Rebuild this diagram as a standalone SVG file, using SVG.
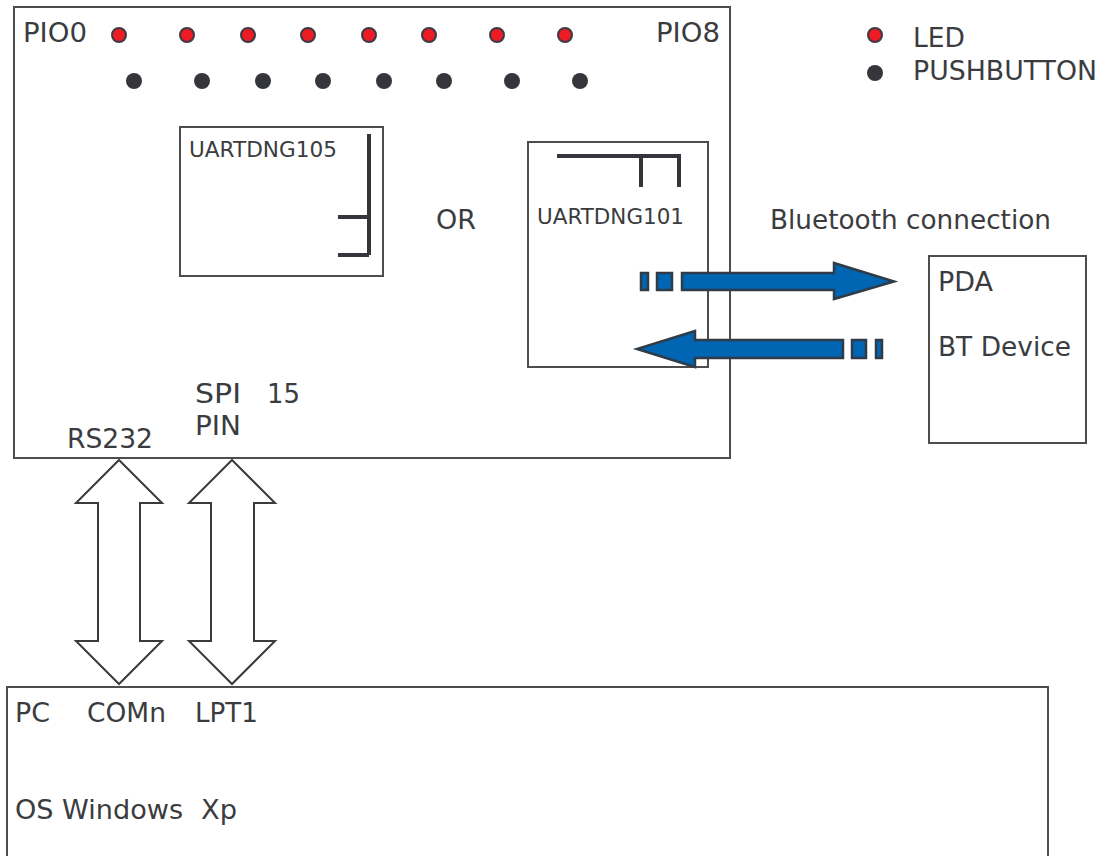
<svg xmlns="http://www.w3.org/2000/svg" width="1104" height="856" viewBox="0 0 1104 856">
<style>
text{font-family:"DejaVu Sans",Verdana,sans-serif;font-size:26px;fill:#3a3c40}
.sm{font-size:21px}
.box{fill:none;stroke:#4d4d4f;stroke-width:2}
.led{fill:#ed1c24;stroke:#3a3a40;stroke-width:2}
.btn{fill:#35363b}
.ant{fill:none;stroke:#35363b;stroke-width:4}
.blue{fill:#0066b3;stroke:#2f3b47;stroke-width:2.500}
.dbl{fill:#fff;stroke:#3a3a3c;stroke-width:2}
</style>
<rect width="1104" height="856" fill="#fff"/>
<g id="main-board">
<rect class="box" x="14" y="7" width="716" height="451"/>
<text x="23" y="42" textLength="64" lengthAdjust="spacingAndGlyphs">PIO0</text>
<text x="656" y="42" textLength="64" lengthAdjust="spacingAndGlyphs">PIO8</text>
<text x="436" y="229" textLength="40" lengthAdjust="spacingAndGlyphs">OR</text>
<text x="195" y="403" textLength="46" lengthAdjust="spacingAndGlyphs">SPI</text>
<text x="267" y="403" textLength="33" lengthAdjust="spacingAndGlyphs">15</text>
<text x="195" y="435" textLength="46" lengthAdjust="spacingAndGlyphs">PIN</text>
<text x="67" y="448" textLength="86" lengthAdjust="spacingAndGlyphs">RS232</text>
</g>
<g id="leds">
<circle class="led" cx="119" cy="35" r="7"/><circle class="led" cx="187" cy="35" r="7"/><circle class="led" cx="248" cy="35" r="7"/><circle class="led" cx="308" cy="35" r="7"/><circle class="led" cx="369" cy="35" r="7"/><circle class="led" cx="429" cy="35" r="7"/><circle class="led" cx="497" cy="35" r="7"/><circle class="led" cx="565" cy="35" r="7"/>
</g>
<g id="buttons">
<circle class="btn" cx="134" cy="81" r="8"/><circle class="btn" cx="202" cy="81" r="8"/><circle class="btn" cx="263" cy="81" r="8"/><circle class="btn" cx="323" cy="81" r="8"/><circle class="btn" cx="384" cy="81" r="8"/><circle class="btn" cx="444" cy="81" r="8"/><circle class="btn" cx="512" cy="81" r="8"/><circle class="btn" cx="580" cy="81" r="8"/>
</g>
<g id="legend">
<circle class="led" cx="875" cy="35" r="7"/>
<circle class="btn" cx="875" cy="73" r="8"/>
<text x="913" y="47" textLength="52" lengthAdjust="spacingAndGlyphs">LED</text>
<text x="913" y="80" textLength="184" lengthAdjust="spacingAndGlyphs">PUSHBUTTON</text>
</g>
<g id="uartdng105">
<rect class="box" x="180" y="127" width="203" height="149"/>
<text class="sm" x="189" y="157" textLength="148" lengthAdjust="spacingAndGlyphs">UARTDNG105</text>
<path class="ant" d="M369 134V255M338 217H369M338 255H369"/>
</g>
<g id="uartdng101">
<rect class="box" x="528" y="142" width="180" height="225"/>
<text class="sm" x="537" y="224" textLength="147" lengthAdjust="spacingAndGlyphs">UARTDNG101</text>
<path class="ant" d="M557 156H679V187M641 156V187"/>
</g>
<g id="pda">
<rect class="box" x="929" y="256" width="157" height="187"/>
<text x="938" y="291" textLength="55" lengthAdjust="spacingAndGlyphs">PDA</text>
<text x="938" y="356" textLength="133" lengthAdjust="spacingAndGlyphs">BT Device</text>
</g>
<g id="pc">
<rect class="box" x="7" y="687" width="1041" height="175"/>
<text x="15" y="722" textLength="35" lengthAdjust="spacingAndGlyphs">PC</text>
<text x="87" y="722" textLength="79" lengthAdjust="spacingAndGlyphs">COMn</text>
<text x="195" y="722" textLength="63" lengthAdjust="spacingAndGlyphs">LPT1</text>
<text x="15" y="819" textLength="168" lengthAdjust="spacingAndGlyphs">OS Windows</text>
<text x="201" y="819" textLength="36" lengthAdjust="spacingAndGlyphs">Xp</text>
</g>
<text x="770" y="229" textLength="281" lengthAdjust="spacingAndGlyphs">Bluetooth connection</text>
<g id="connectors">
<path class="dbl" d="M119 460L162 503H140V641H162L119 684L76 641H98V503H76Z"/>
<path class="dbl" d="M232 460L275 503H254V641H275L232 684L189 641H211V503H189Z"/>
<path class="blue" d="M682 273H834V263L894 281.500L834 299V290H682Z"/>
<rect class="blue" x="641" y="273" width="7" height="17"/>
<rect class="blue" x="657" y="273" width="15" height="17"/>
<path class="blue" d="M843 340H695V331L637 349L695 367V358H843Z"/>
<rect class="blue" x="852" y="340" width="14" height="18"/>
<rect class="blue" x="876" y="340" width="6" height="18"/>
</g>
</svg>
